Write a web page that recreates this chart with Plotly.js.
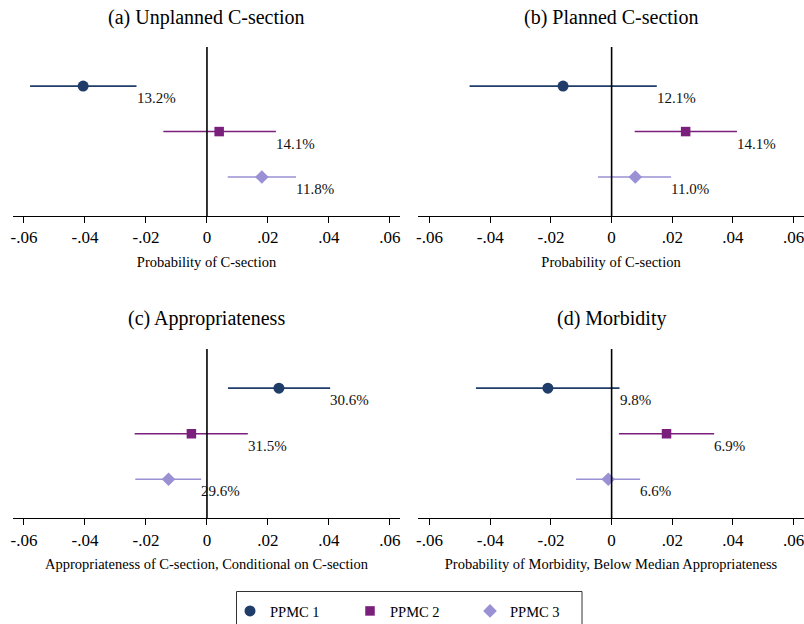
<!DOCTYPE html>
<html><head><meta charset="utf-8">
<script src="https://cdn.plot.ly/plotly-3.0.1.min.js"></script>
<style>html,body{margin:0;padding:0;background:#fff}#chart{width:804px;height:624px}</style>
</head><body><div id="chart"></div>
<script>
// ---- data ----
const series = ["PPMC 1", "PPMC 2", "PPMC 3"];
const rows = [1, 2, 3];
const panelTitles = ["(a) Unplanned C-section", "(b) Planned C-section", "(c) Appropriateness", "(d) Morbidity"];
const axisTitles = ["Probability of C-section", "Probability of C-section",
  "Appropriateness of C-section, Conditional on C-section",
  "Probability of Morbidity, Below Median Appropriateness"];
const tickVals = [-0.06, -0.04, -0.02, 0, 0.02, 0.04, 0.06];
const tickText = ["-.06", "-.04", "-.02", "0", ".02", ".04", ".06"];

// (a) Unplanned C-section
const estA = [-0.0406, 0.0040, 0.0180];
const loA = [-0.0580, -0.0143, 0.0068];
const hiA = [-0.0231, 0.0226, 0.0292];
const shareA = ["13.2%", "14.1%", "11.8%"];
// (b) Planned C-section
const estB = [-0.0160, 0.0244, 0.0078];
const loB = [-0.0468, 0.0076, -0.0045];
const hiB = [0.0149, 0.0413, 0.0196];
const shareB = ["12.1%", "14.1%", "11.0%"];
// (c) Appropriateness
const estC = [0.0236, -0.0051, -0.0126];
const loC = [0.0069, -0.0237, -0.0235];
const hiC = [0.0404, 0.0134, -0.0019];
const shareC = ["30.6%", "31.5%", "29.6%"];
// (d) Morbidity
const estD = [-0.0210, 0.0181, -0.0011];
const loD = [-0.0447, 0.0024, -0.0117];
const hiD = [0.0026, 0.0338, 0.0094];
const shareD = ["9.8%", "6.9%", "6.6%"];

// ---- styles ----
const FONT = "Liberation Serif, Times New Roman, Times, serif";
const colors = ["#1f3d68", "#7a1f7c", "#9a91d5"];
const symbols = ["circle", "square", "diamond"];
const sizes = [11, 9.5, 10.5];

const panels = [
  {est: estA, lo: loA, hi: hiA, share: shareA},
  {est: estB, lo: loB, hi: hiB, share: shareB},
  {est: estC, lo: loC, hi: hiC, share: shareC},
  {est: estD, lo: loD, hi: hiD, share: shareD}
];

const traces = [];
const annotations = [];
const shapes = [];
panels.forEach((p, pi) => {
  const ax = pi === 0 ? "" : String(pi + 1);
  series.forEach((name, si) => {
    traces.push({
      type: "scatter", mode: "markers", name: name,
      legendgroup: name, showlegend: pi === 0,
      x: [p.est[si]], y: [rows[si]],
      xaxis: "x" + ax, yaxis: "y" + ax,
      marker: {symbol: symbols[si], size: sizes[si], color: colors[si], line: {width: 0}},
      error_x: {type: "data", symmetric: false,
        array: [p.hi[si] - p.est[si]], arrayminus: [p.est[si] - p.lo[si]],
        width: 0, thickness: 1.6, color: colors[si]},
      hoverinfo: "x+name"
    });
    annotations.push({
      xref: "x" + ax, yref: "y" + ax,
      x: p.hi[si], y: rows[si],
      xanchor: "left", yanchor: "middle", xshift: -2, yshift: -12,
      text: p.share[si], showarrow: false,
      font: {family: FONT, size: 15, color: "#111"}
    });
  });
  annotations.push({
    xref: "x" + ax + " domain", yref: "paper", x: 0.5,
    y: pi < 2 ? (624 - 17) / 624 : (624 - 318.5) / 624,
    xanchor: "center", yanchor: "middle", showarrow: false,
    text: panelTitles[pi], font: {family: FONT, size: 20, color: "#000"}
  });
  shapes.push({
    type: "line", xref: "x" + ax, yref: "y" + ax + " domain",
    x0: 0, x1: 0, y0: 0, y1: 1, layer: "above",
    line: {color: "#000", width: 1.6}
  });
});

// legend frame
shapes.push({
  type: "rect", xref: "paper", yref: "paper",
  x0: 236.5 / 804, x1: 582 / 804, y0: -0.05, y1: (624 - 591.5) / 624,
  line: {color: "#333", width: 1}, fillcolor: "rgba(0,0,0,0)", layer: "below"
});

function xAxis(domain, range, title) {
  return {
    domain: domain, range: range, showgrid: false, zeroline: false,
    showline: true, linecolor: "#000", linewidth: 1,
    ticks: "outside", ticklen: 6, tickwidth: 1, tickcolor: "#000",
    tickmode: "array", tickvals: tickVals, ticktext: tickText,
    ticklabeloverflow: "allow",
    tickfont: {family: FONT, size: 17, color: "#000"},
    title: {text: title, font: {family: FONT, size: 14.5, color: "#000"}, standoff: 10},
    fixedrange: true
  };
}
function yAxis(domain, anchor) {
  return {domain: domain, range: [3.857, 0.14], visible: false, anchor: anchor, fixedrange: true};
}

const xdomL = [13 / 804, 400 / 804];
const xdomR = [418 / 804, 1];
const ydomT = [(624 - 216) / 624, (624 - 47) / 624];
const ydomB = [(624 - 518.3) / 624, (624 - 349) / 624];
const rangeL = [-0.0636, 0.0633];
const rangeR = [-0.0638, 0.0634];

const layout = {
  width: 804, height: 624,
  margin: {l: 0, r: 0, t: 0, b: 0, autoexpand: false},
  paper_bgcolor: "#fff", plot_bgcolor: "#fff",
  font: {family: FONT, color: "#000"},
  xaxis: Object.assign(xAxis(xdomL, rangeL, axisTitles[0]), {anchor: "y"}),
  yaxis: yAxis(ydomT, "x"),
  xaxis2: Object.assign(xAxis(xdomR, rangeR, axisTitles[1]), {anchor: "y2"}),
  yaxis2: yAxis(ydomT, "x2"),
  xaxis3: Object.assign(xAxis(xdomL, rangeL, axisTitles[2]), {anchor: "y3"}),
  yaxis3: yAxis(ydomB, "x3"),
  xaxis4: Object.assign(xAxis(xdomR, rangeR, axisTitles[3]), {anchor: "y4"}),
  yaxis4: yAxis(ydomB, "x4"),
  showlegend: true,
  legend: {
    orientation: "h", x: 230 / 804, xanchor: "left", y: (624 - 595) / 624, yanchor: "top",
    bgcolor: "rgba(0,0,0,0)", borderwidth: 0, entrywidth: 75,
    font: {family: FONT, size: 14.5, color: "#000"}
  },
  annotations: annotations,
  shapes: shapes
};

Plotly.newPlot("chart", traces, layout, {staticPlot: true, displayModeBar: false});
</script>
</body></html>
